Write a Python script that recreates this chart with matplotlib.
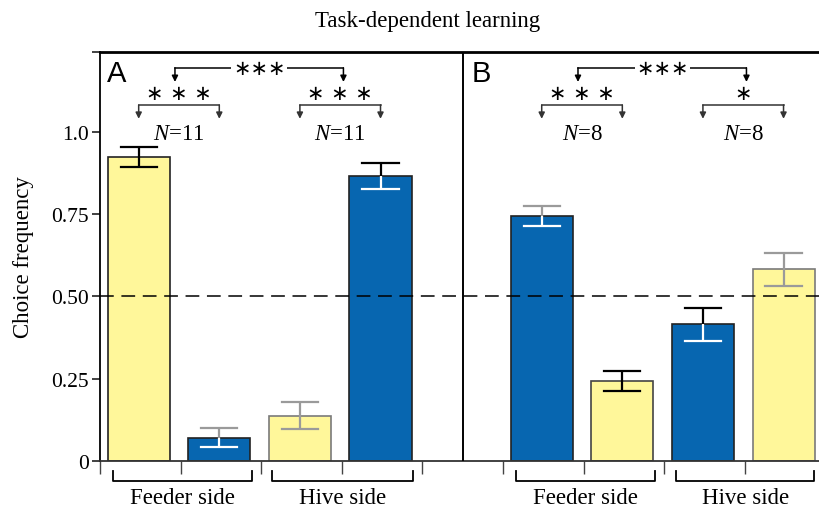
import matplotlib
matplotlib.use("Agg")
import matplotlib.pyplot as plt

plt.rcParams['font.family'] = ['Liberation Serif', 'DejaVu Serif']
plt.rcParams['mathtext.fontset'] = 'custom'
plt.rcParams['mathtext.rm'] = 'Liberation Serif'
plt.rcParams['mathtext.it'] = 'Liberation Serif:italic'

# ---- data ----
positions = [0.48, 1.48, 2.48, 3.48, 5.48, 6.48, 7.48, 8.48]
means = [0.924, 0.071, 0.138, 0.866, 0.745, 0.243, 0.415, 0.582]
errors = [0.030, 0.029, 0.041, 0.040, 0.031, 0.030, 0.050, 0.050]
bar_kinds = ['yellow', 'blue', 'yellow', 'blue', 'blue', 'yellow', 'blue', 'yellow']
err_upper_colors = ['black', '#9a9a9a', '#9a9a9a', 'black', '#9a9a9a', 'black', 'black', '#9a9a9a']
err_lower_colors = ['black', 'white', '#9a9a9a', 'white', 'white', 'black', 'white', '#9a9a9a']
edge_colors = ['#222222', '#222222', '#7a7a7a', '#222222', '#222222', '#444444', '#222222', '#7a7a7a']
group_labels = ['Feeder side', 'Hive side', 'Feeder side', 'Hive side']
group_spans = [(0.16, 1.89), (2.13, 3.88), (5.16, 6.89), (7.15, 8.86)]
n_labels = ['11', '11', '8', '8']
pair_stars = ['∗ ∗ ∗', '∗ ∗ ∗', '∗ ∗ ∗', '∗']
panel_stars = ['∗∗∗', '∗∗∗']
panel_names = ['A', 'B']
ytick_vals = [0, 0.25, 0.5, 0.75, 1.0]
ytick_labels = ['0', '0.25', '0.50', '0.75', '1.0']
chance = 0.5
title = 'Task-dependent learning'
ylabel = 'Choice frequency'

colors = {'yellow': '#FFF79A', 'blue': '#0766B0'}
SERIF = ['Liberation Serif', 'DejaVu Serif']

fig = plt.figure(figsize=(8.19, 5.10), dpi=100)
ax = fig.add_axes([100/819, 48/510, 719/819, 409/510])
ytop = 1.243
ax.set_xlim(0, 8.92)
ax.set_ylim(0, ytop)

bw = 0.77
ax.bar(positions, means, width=bw, color=[colors[k] for k in bar_kinds],
       edgecolor=edge_colors, linewidth=1.2, zorder=2)

cap = 0.225
for x, m, e, cu, cl in zip(positions, means, errors, err_upper_colors, err_lower_colors):
    ax.plot([x, x], [m, m + e], color=cu, lw=1.6, zorder=4, solid_capstyle='butt')
    ax.plot([x - cap, x + cap], [m + e, m + e], color=cu, lw=1.6, zorder=4)
    ax.plot([x, x], [m - e, m], color=cl, lw=1.6, zorder=4, solid_capstyle='butt')
    ax.plot([x - cap, x + cap], [m - e, m - e], color=cl, lw=1.6, zorder=4)

ax.axhline(chance, color='black', lw=1.1, ls=(0, (9, 5)), zorder=3)
ax.plot([4.5, 4.5], [0, ytop], color='black', lw=1.4, zorder=3)

# axes styling
ax.spines['right'].set_visible(False)
ax.spines['top'].set_linewidth(2.0)
ax.spines['left'].set_linewidth(1.3)
ax.spines['bottom'].set_linewidth(1.3)
ax.spines['bottom'].set_color('#333333')
ax.set_yticks(ytick_vals + [ytop])
ax.set_yticklabels(ytick_labels + [''], family=SERIF)
ax.tick_params(axis='y', direction='out', length=6, width=1.3, labelsize=15.5, pad=2,
               colors='#333333', labelcolor='black')
ax.set_xticks(range(0, 9))
ax.set_xticklabels([''] * 9)
ax.tick_params(axis='x', direction='out', length=9.5, width=1.0, colors='#444444')
ax.set_ylabel(ylabel, fontsize=16.5, labelpad=12, family=SERIF)
fig.text(428/819, 1 - 22/510, title, ha='center', va='center', fontsize=16.5, family=SERIF)

# group brackets below axis
for (x0, x1), lab in zip(group_spans, group_labels):
    ax.plot([x0, x0, x1, x1], [-0.030, -0.061, -0.061, -0.030], color='black', lw=1.3, clip_on=False)
    ax.text((x0 + x1) / 2, -0.112, lab, ha='center', va='center', fontsize=16.5, family=SERIF)

# significance annotations
def arrow(x, y0, y1, color):
    ax.annotate('', xy=(x, y1), xytext=(x, y0),
                arrowprops=dict(arrowstyle='-|>', lw=1.1, color=color, mutation_scale=9,
                                shrinkA=0, shrinkB=0), zorder=5)

pair_centers = []
for i in range(4):
    a = positions[2 * i]
    b = positions[2 * i + 1]
    c = (a + b) / 2
    pair_centers.append(c)
    col = '#333333'
    ax.plot([a, b], [1.082, 1.082], color=col, lw=1.1, zorder=5)
    arrow(a, 1.082, 1.040, col)
    arrow(b, 1.082, 1.040, col)
    ax.text(c, 1.118, pair_stars[i], ha='center', va='center', fontsize=15,
            family=['DejaVu Sans'], zorder=6)
    ax.text(c, 0.994, r'$N$=' + n_labels[i], ha='center', va='center', fontsize=16.5,
            family=SERIF, zorder=6)

for p in range(2):
    a = pair_centers[2 * p] - 0.05
    b = pair_centers[2 * p + 1] + 0.04
    ax.plot([a, b], [1.195, 1.195], color='black', lw=1.1, zorder=5)
    arrow(a, 1.195, 1.152, 'black')
    arrow(b, 1.195, 1.152, 'black')
    ax.text((a + b) / 2, 1.195, panel_stars[p], ha='center', va='center', fontsize=15,
            family=['DejaVu Sans'], zorder=6,
            bbox=dict(facecolor='white', edgecolor='none', pad=1))

ax.text(0.09, 1.155, panel_names[0], ha='left', va='baseline', fontsize=21, family=['Liberation Sans'])
ax.text(4.61, 1.155, panel_names[1], ha='left', va='baseline', fontsize=21, family=['Liberation Sans'])

fig.savefig('out.png', dpi=100)
